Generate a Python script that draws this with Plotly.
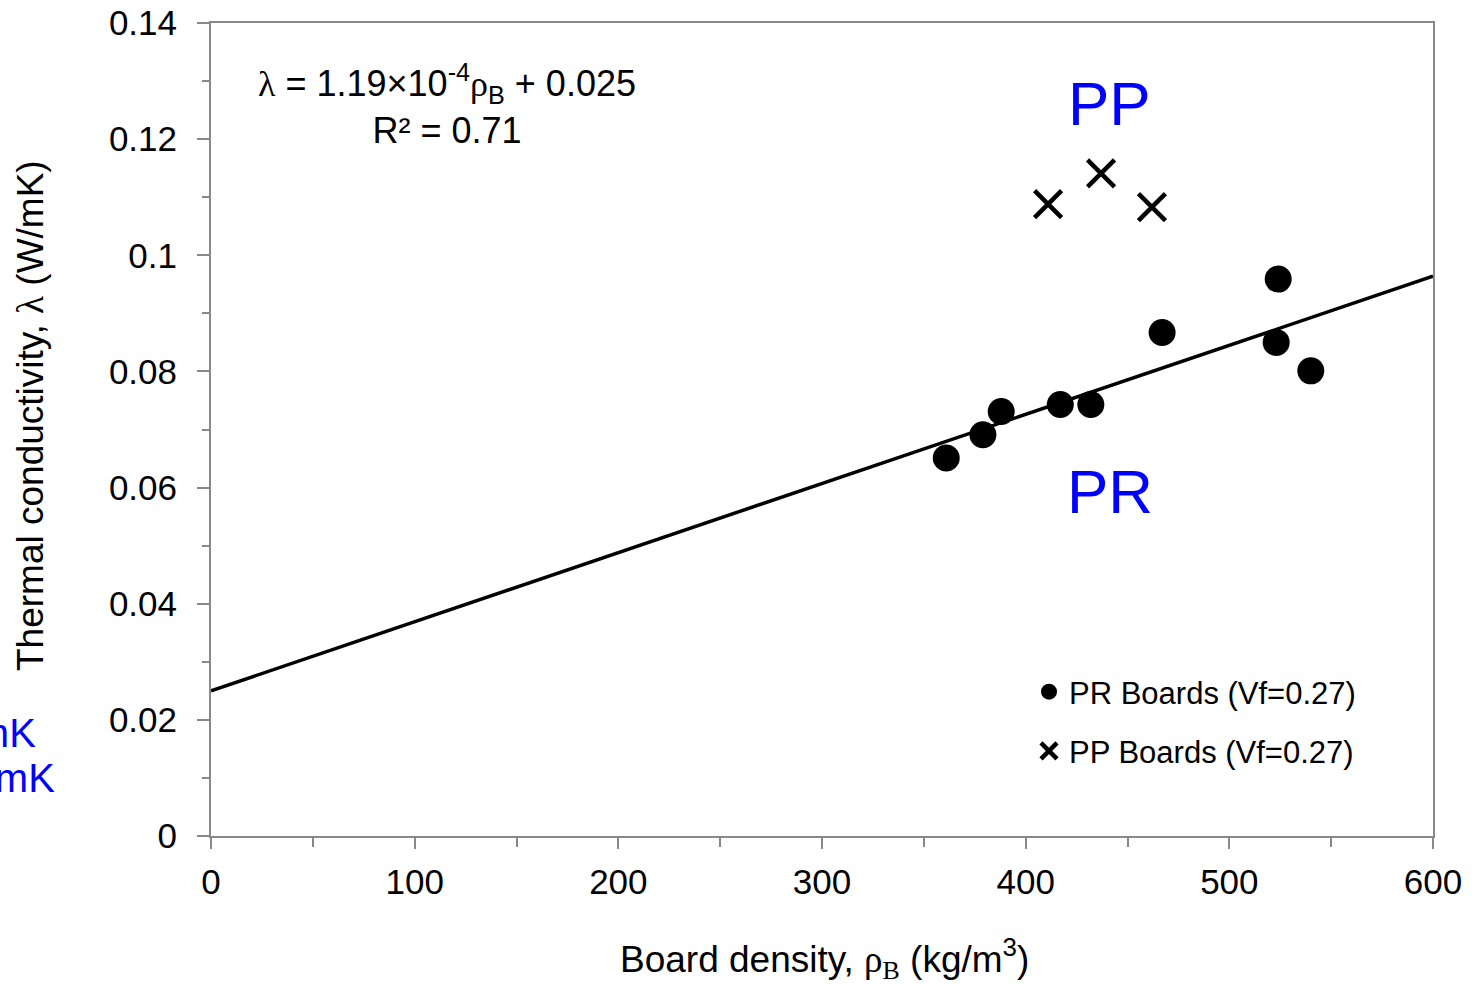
import plotly.graph_objects as go

# Measured boards: density (kg/m3) and thermal conductivity (W/mK)
density_pr = [361, 379, 388, 417, 432, 467, 524, 523, 540]
lambda_pr = [0.0651, 0.0691, 0.0731, 0.0743, 0.0743, 0.0867, 0.0959, 0.0850, 0.0801]
density_pp = [411, 437, 462]
lambda_pp = [0.1088, 0.1141, 0.1083]

# Linear fit of the PR boards
fit_slope = 1.19e-4
fit_intercept = 0.025
fit_density = [0, 600]
fit_lambda = [fit_slope * d + fit_intercept for d in fit_density]

x_tickvals = [0, 100, 200, 300, 400, 500, 600]
y_tickvals = [0, 0.02, 0.04, 0.06, 0.08, 0.10, 0.12, 0.14]
y_ticktext = ["0", "0.02", "0.04", "0.06", "0.08", "0.1", "0.12", "0.14"]

SANS = "Liberation Sans, Arial, sans-serif"
SERIF = "Liberation Serif, Times New Roman, serif"
BLUE = "#0000ff"
AXIS_GREY = "#888888"

W, H = 1479, 984
L, R, T, B = 211, 1433, 23, 836


def px(x):
    return (x - L) / (R - L)


def py(y):
    return (B - y) / (B - T)


fig = go.Figure()

fig.add_trace(go.Scatter(
    x=fit_density, y=fit_lambda, mode="lines",
    line=dict(color="black", width=3.5),
    showlegend=False, hoverinfo="skip",
))
fig.add_trace(go.Scatter(
    x=density_pr, y=lambda_pr, mode="markers",
    name="PR Boards (Vf=0.27)", legendgroup="pr",
    marker=dict(symbol="circle", size=27, color="black"),
))
fig.add_trace(go.Scatter(
    x=density_pp, y=lambda_pp, mode="markers",
    name="PP Boards (Vf=0.27)", legendgroup="pp",
    marker=dict(symbol="x-thin", size=27, color="black",
                line=dict(color="black", width=4.5)),
))

annotations = [
    dict(text="PP", x=px(1109), y=py(104), font=dict(size=62, color=BLUE)),
    dict(text="PR", x=px(1110), y=py(492), font=dict(size=62, color=BLUE)),
    dict(
        text=(f"<span style='font-family:{SERIF}'>λ</span> = 1.19×10<sup>-4</sup>"
              f"<span style='font-family:{SERIF}'>ρ</span><sub>B</sub> + 0.025<br>R² = 0.71"),
        x=px(447), y=py(105), align="center", font=dict(size=36, color="black"),
    ),
    dict(text="W/mK", x=px(38), y=py(733), xanchor="right",
         font=dict(size=40, color=BLUE)),
    dict(text="W/mK", x=px(57), y=py(778), xanchor="right",
         font=dict(size=40, color=BLUE)),
    dict(
        text=f"Board density, <span style='font-family:{SERIF}'>ρ<sub>B</sub></span> (kg/m<sup>3</sup>)",
        x=px(824), y=py(959), font=dict(size=37, color="black"),
    ),
    dict(
        text=f"Thermal conductivity, <span style='font-family:{SERIF}'>λ</span> (W/mK)",
        x=px(30), y=py(416), textangle=-90, font=dict(size=37, color="black"),
    ),
]
for a in annotations:
    a.update(xref="paper", yref="paper", showarrow=False)
    a.setdefault("xanchor", "center")
    a.setdefault("yanchor", "middle")

fig.update_layout(
    width=W, height=H,
    margin=dict(l=L, r=W - R, t=T, b=H - B, pad=0, autoexpand=False),
    paper_bgcolor="white", plot_bgcolor="white",
    font=dict(family=SANS, color="black"),
    annotations=annotations,
    legend=dict(
        x=px(1029), y=py(665), xanchor="left", yanchor="top",
        bgcolor="rgba(0,0,0,0)", font=dict(size=31, color="black"),
        tracegroupgap=16, itemsizing="trace",
    ),
)

fig.update_xaxes(
    range=[0, 600], tickvals=x_tickvals, automargin=False,
    showgrid=False, zeroline=False,
    showline=True, linecolor=AXIS_GREY, linewidth=2, mirror=True,
    ticks="outside", ticklen=11, tickwidth=2, tickcolor=AXIS_GREY,
    tickfont=dict(size=35, color="black"), ticklabelstandoff=3,
    minor=dict(dtick=50, ticks="outside", ticklen=9, tickwidth=2, tickcolor=AXIS_GREY),
)
fig.update_yaxes(
    range=[0, 0.14], tickvals=y_tickvals, ticktext=y_ticktext, automargin=False,
    showgrid=False, zeroline=False,
    showline=True, linecolor=AXIS_GREY, linewidth=2, mirror=True,
    ticks="outside", ticklen=12, tickwidth=2, tickcolor=AXIS_GREY,
    tickfont=dict(size=35, color="black"), ticklabelstandoff=13,
    minor=dict(dtick=0.01, ticks="outside", ticklen=7, tickwidth=2, tickcolor=AXIS_GREY),
)

fig.write_html("out.html")
